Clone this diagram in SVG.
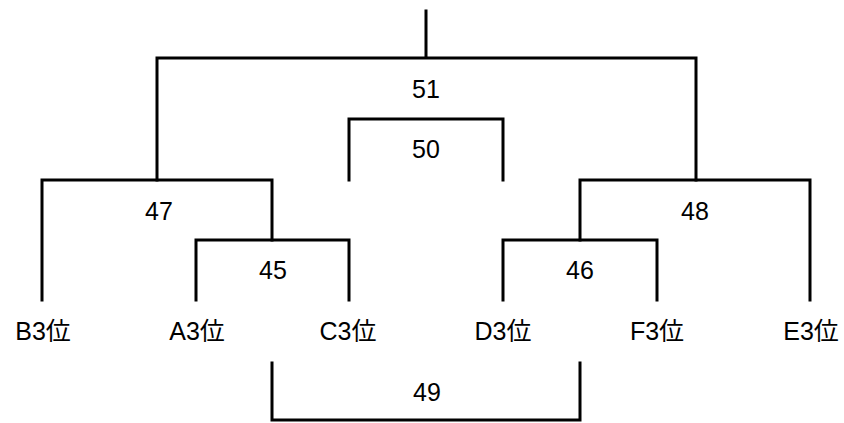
<svg xmlns="http://www.w3.org/2000/svg" width="844" height="423" viewBox="0 0 844 423">
<style>
.c{fill:none;stroke:#000;stroke-width:3;stroke-linecap:square}
.t{font-family:"Liberation Sans","Noto Sans CJK JP",sans-serif;font-size:25px;fill:#000;text-anchor:middle}
</style>
<rect width="844" height="423" fill="#fff"/>
<g id="connectors">
<path class="c" d="M426,11V58M157,180V58H696V180"/>
<path class="c" d="M349,180V119H503V180"/>
<path class="c" d="M42,300V180H272V240"/>
<path class="c" d="M580,240V180H810V300"/>
<path class="c" d="M196,300V240H349V300"/>
<path class="c" d="M503,300V240H657V300"/>
<path class="c" d="M272,363V420H580V363"/>
</g>
<g id="m51"><text class="t" x="426" y="98">51</text></g>
<g id="m50"><text class="t" x="426" y="158">50</text></g>
<g id="m47"><text class="t" x="159" y="220">47</text></g>
<g id="m48"><text class="t" x="695" y="220">48</text></g>
<g id="m45"><text class="t" x="273" y="279">45</text></g>
<g id="m46"><text class="t" x="580" y="279">46</text></g>
<g id="m49"><text class="t" x="427" y="401">49</text></g>
<g id="B3"><text class="t" x="43" y="340">B3位</text></g>
<g id="A3"><text class="t" x="197" y="340">A3位</text></g>
<g id="C3"><text class="t" x="348" y="340">C3位</text></g>
<g id="D3"><text class="t" x="503" y="340">D3位</text></g>
<g id="F3"><text class="t" x="657" y="340">F3位</text></g>
<g id="E3"><text class="t" x="811" y="340">E3位</text></g>
</svg>
